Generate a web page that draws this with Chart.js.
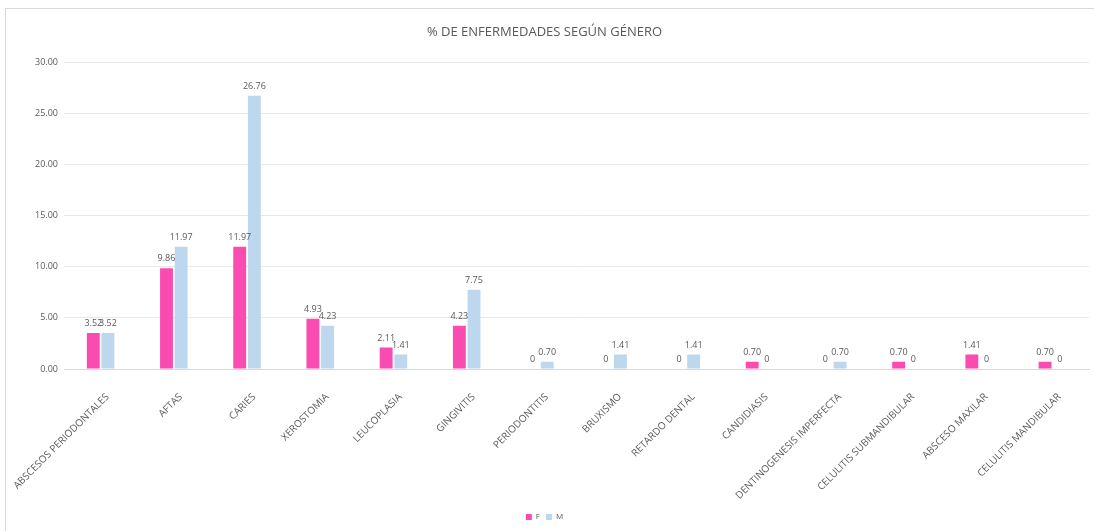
<!DOCTYPE html>
<html>
<head>
<meta charset="utf-8">
<script src="https://cdn.jsdelivr.net/npm/chart.js@4"></script>
<style>
  html, body { margin: 0; padding: 0; background: #fff; }
  #frame { position: absolute; left: 5px; top: 8px; width: 1095px; height: 530px; border: 1px solid #d9d9d9; box-sizing: border-box; }
  #c { position: absolute; left: 0; top: 0; }
</style>
</head>
<body>
<div id="frame"></div>
<canvas id="c" width="1094" height="531"></canvas>
<script>
const categories = ["ABSCESOS PERIODONTALES", "AFTAS", "CARIES", "XEROSTOMIA", "LEUCOPLASIA", "GINGIVITIS", "PERIODONTITIS", "BRUXISMO", "RETARDO DENTAL", "CANDIDIASIS", "DENTINOGENESIS IMPERFECTA", "CELULITIS SUBMANDIBULAR", "ABSCESO MAXILAR", "CELULITIS MANDIBULAR"];
const valuesF = [3.52, 9.86, 11.97, 4.93, 2.11, 4.23, 0, 0, 0, 0.70, 0, 0.70, 1.41, 0.70];
const valuesM = [3.52, 11.97, 26.76, 4.23, 1.41, 7.75, 0.70, 1.41, 1.41, 0, 0.70, 0, 0, 0];
const yTicks = [0, 5, 10, 15, 20, 25, 30];
const titleText = "% DE ENFERMEDADES SEGÚN GÉNERO";

const FONT = "'Open Sans', 'Liberation Sans', sans-serif";
const fmt = v => v === 0 ? "0" : v.toFixed(2);

const labelPlugin = {
  id: 'valueLabels',
  afterDatasetsDraw(chart) {
    const ctx = chart.ctx;
    ctx.save();
    ctx.font = "9px " + FONT;
    ctx.fillStyle = "#595959";
    ctx.textAlign = "center";
    ctx.textBaseline = "bottom";
    chart.data.datasets.forEach((ds, di) => {
      const meta = chart.getDatasetMeta(di);
      meta.data.forEach((bar, i) => {
        const v = ds.data[i];
        ctx.fillText(fmt(v), bar.x, bar.y - 5);
      });
    });
    ctx.restore();
  }
};

new Chart(document.getElementById('c'), {
  type: 'bar',
  data: {
    labels: categories,
    datasets: [
      { label: 'F', data: valuesF, backgroundColor: '#FA4BB1', categoryPercentage: 0.4, barPercentage: 0.88 },
      { label: 'M', data: valuesM, backgroundColor: '#BDD7EE', categoryPercentage: 0.4, barPercentage: 0.88 }
    ]
  },
  options: {
    responsive: false,
    animation: false,
    layout: { padding: { left: 0, right: 5, top: 0, bottom: 0 } },
    plugins: {
      title: {
        display: true, text: titleText, color: '#595959',
        font: { family: FONT, size: 13, weight: 'normal' },
        padding: { top: 24, bottom: 23 }
      },
      legend: {
        position: 'bottom',
        labels: {
          color: '#595959', boxWidth: 6, boxHeight: 6, padding: 6,
          font: { family: FONT, size: 8 }
        }
      },
      tooltip: { enabled: false }
    },
    scales: {
      x: {
        grid: { display: false },
        border: { display: true, color: '#d9d9d9' },
        ticks: {
          color: '#595959', font: { family: FONT, size: 10 }, padding: 14, labelOffset: 7,
          minRotation: 45, maxRotation: 45, autoSkip: false
        },
        afterFit(s) { s.height = 138; s.paddingLeft = 0; s.paddingRight = 0; }
      },
      y: {
        min: 0, max: 30,
        afterBuildTicks(s) { s.ticks = yTicks.map(v => ({ value: v })); },
        grid: { color: '#e8e8e8', drawTicks: false },
        border: { display: false },
        ticks: {
          color: '#595959', font: { family: FONT, size: 9 }, padding: 6,
          callback: v => Number(v).toFixed(2)
        },
        afterFit(s) { s.width = 64; }
      }
    }
  },
  plugins: [labelPlugin]
});
</script>
</body>
</html>
